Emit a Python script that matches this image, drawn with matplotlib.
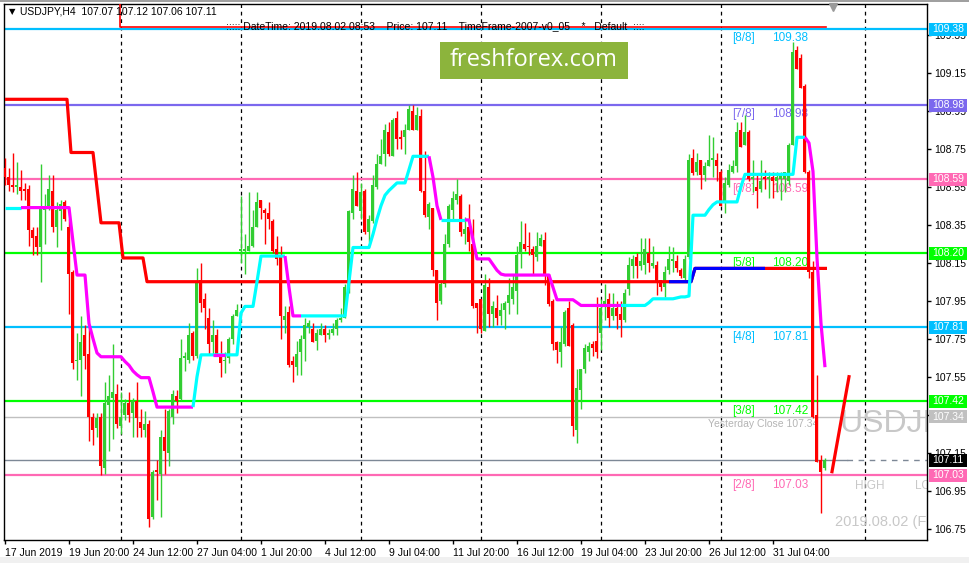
import numpy as np
import matplotlib
matplotlib.use('Agg')
import matplotlib.pyplot as plt
from matplotlib.patches import Rectangle
from matplotlib.transforms import blended_transform_factory

plt.rcParams['font.family'] = ['Liberation Sans', 'DejaVu Sans']

# USDJPY H4 bars, bar 1 = 17 Jun 2019 04:00 ... bar 206 = 2 Aug 2019 08:00
opens = [
    108.65, 108.60, 108.56, 108.55, 108.55, 108.54, 108.54, 108.32, 108.29, 108.23,
    108.43, 108.45, 108.53, 108.34, 108.42, 108.47, 108.34, 108.10, 107.63, 107.64,
    107.77, 107.67, 107.34, 107.28, 107.34, 107.07, 107.40, 107.44, 107.46, 107.29,
    107.35, 107.41, 107.36, 107.42, 107.31, 107.27, 107.30, 106.81, 107.06, 107.04,
    107.23, 107.15, 107.34, 107.45, 107.43, 107.65, 107.64, 107.78, 107.66, 108.06,
    107.96, 107.86, 107.73, 107.77, 107.67, 107.63, 107.65, 107.75, 107.87, 108.21,
    108.21, 108.21, 108.24, 108.34, 108.48, 108.43, 108.41, 108.37, 108.22, 108.18,
    107.85, 107.89, 107.63, 107.60, 107.68, 107.75, 107.81, 107.80, 107.74, 107.77,
    107.80, 107.77, 107.78, 107.80, 107.85, 107.86, 108.02, 108.41, 108.53, 108.42,
    108.53, 108.31, 108.37, 108.55, 108.67, 108.72, 108.84, 108.71, 108.91, 108.81,
    108.81, 108.85, 108.95, 108.85, 108.92, 108.53, 108.39, 108.44, 108.11, 107.95,
    108.04, 108.25, 108.43, 108.48, 108.50, 108.30, 108.34, 108.25, 107.94, 107.96,
    107.79, 108.02, 107.88, 107.91, 107.87, 107.90, 107.94, 107.96, 108.00, 108.20,
    108.25, 108.24, 108.22, 108.18, 108.24, 108.27, 108.08, 107.95, 107.73, 107.68,
    107.72, 107.91, 107.82, 107.27, 107.48, 107.59, 107.68, 107.72, 107.74, 107.78,
    107.92, 107.96, 107.87, 107.91, 107.88, 107.85, 108.01, 108.13, 108.18, 108.13,
    108.14, 108.20, 108.13, 108.14, 108.06, 108.02, 108.11, 108.16, 108.16, 108.11,
    108.07, 108.18, 108.70, 108.63, 108.69, 108.61, 108.66, 108.69, 108.69, 108.63,
    108.47, 108.56, 108.63, 108.66, 108.85, 108.77, 108.84, 108.59, 108.55, 108.54,
    108.60, 108.59, 108.60, 108.58, 108.59, 108.59, 108.58, 108.77, 109.27, 109.23,
    109.08, 108.63, 108.10, 107.35, 107.11, 107.07]
highs = [
    108.70, 108.65, 108.73, 108.68, 108.64, 108.57, 108.56, 108.34, 108.34, 108.67,
    108.51, 108.61, 108.61, 108.47, 108.48, 108.48, 108.38, 108.11, 107.78, 107.87,
    107.82, 107.81, 107.36, 107.36, 107.36, 107.52, 107.56, 107.72, 107.51, 107.47,
    107.43, 107.47, 107.44, 107.52, 107.38, 107.37, 107.32, 107.06, 107.11, 107.27,
    107.38, 107.38, 107.48, 107.48, 107.75, 107.68, 107.83, 107.79, 108.12, 108.15,
    107.99, 107.91, 107.85, 107.80, 107.74, 107.68, 107.76, 107.88, 107.93, 108.50,
    108.30, 108.52, 108.43, 108.52, 108.48, 108.44, 108.47, 108.38, 108.29, 108.24,
    107.92, 107.92, 107.66, 107.74, 107.77, 107.86, 107.85, 107.83, 107.80, 107.83,
    107.82, 107.80, 107.83, 107.86, 107.91, 108.04, 108.43, 108.61, 108.63, 108.57,
    108.54, 108.40, 108.61, 108.72, 108.80, 108.88, 108.89, 108.91, 108.95, 108.85,
    108.88, 108.98, 108.98, 108.97, 108.96, 108.74, 108.47, 108.44, 108.11, 108.06,
    108.30, 108.46, 108.53, 108.59, 108.51, 108.39, 108.46, 108.38, 107.94, 107.96,
    108.09, 108.07, 107.95, 107.98, 107.94, 107.95, 108.07, 108.09, 108.24, 108.37,
    108.36, 108.31, 108.24, 108.31, 108.30, 108.31, 108.09, 107.96, 107.74, 107.81,
    107.90, 107.95, 107.83, 107.59, 107.59, 107.72, 107.73, 107.74, 107.97, 107.96,
    108.04, 107.99, 107.99, 107.95, 107.95, 108.01, 108.18, 108.19, 108.20, 108.28,
    108.28, 108.28, 108.24, 108.16, 108.06, 108.13, 108.24, 108.23, 108.19, 108.12,
    108.19, 108.72, 108.75, 108.73, 108.69, 108.68, 108.82, 108.81, 108.73, 108.64,
    108.60, 108.67, 108.69, 108.89, 108.89, 108.93, 108.85, 108.69, 108.62, 108.69,
    108.64, 108.63, 108.63, 108.63, 108.63, 108.63, 108.78, 109.31, 109.29, 109.25,
    109.09, 108.64, 108.16, 107.56, 107.14, 107.12]
lows = [
    108.56, 108.53, 108.52, 108.51, 108.48, 108.48, 108.24, 108.19, 108.19, 108.05,
    108.25, 108.43, 108.31, 108.23, 108.32, 108.37, 107.88, 107.59, 107.53, 107.45,
    107.59, 107.21, 107.19, 107.23, 107.03, 107.04, 107.16, 107.22, 107.28, 107.25,
    107.32, 107.31, 107.23, 107.23, 107.23, 107.23, 106.76, 106.80, 106.90, 106.81,
    107.04, 107.08, 107.30, 107.36, 107.42, 107.58, 107.62, 107.64, 107.65, 107.89,
    107.80, 107.67, 107.67, 107.67, 107.55, 107.57, 107.62, 107.72, 107.87, 108.15,
    108.09, 108.21, 108.23, 108.34, 108.38, 108.25, 108.33, 108.20, 108.14, 107.75,
    107.78, 107.60, 107.52, 107.56, 107.56, 107.63, 107.78, 107.73, 107.69, 107.77,
    107.73, 107.75, 107.77, 107.77, 107.84, 107.86, 107.99, 108.38, 108.45, 108.38,
    108.30, 108.26, 108.36, 108.54, 108.67, 108.66, 108.71, 108.71, 108.75, 108.75,
    108.72, 108.85, 108.85, 108.85, 108.52, 108.39, 108.33, 108.08, 107.85, 107.93,
    108.02, 108.23, 108.38, 108.46, 108.29, 108.25, 108.21, 107.91, 107.78, 107.78,
    107.79, 107.81, 107.81, 107.82, 107.82, 107.80, 107.88, 107.93, 107.88, 108.12,
    108.21, 108.19, 108.09, 108.16, 108.24, 108.03, 107.92, 107.69, 107.62, 107.60,
    107.71, 107.71, 107.24, 107.20, 107.38, 107.57, 107.63, 107.66, 107.65, 107.69,
    107.85, 107.81, 107.85, 107.80, 107.76, 107.84, 107.98, 108.07, 108.07, 108.11,
    108.09, 108.10, 108.12, 107.98, 108.00, 107.97, 108.09, 108.10, 108.10, 108.07,
    108.06, 108.17, 108.61, 108.61, 108.54, 108.58, 108.66, 108.60, 108.58, 108.45,
    108.41, 108.55, 108.62, 108.63, 108.76, 108.77, 108.58, 108.52, 108.44, 108.52,
    108.54, 108.49, 108.49, 108.52, 108.48, 108.52, 108.56, 108.77, 109.17, 109.07,
    108.62, 108.07, 107.33, 107.10, 106.83, 107.06]
closes = [
    108.60, 108.56, 108.55, 108.56, 108.53, 108.53, 108.32, 108.28, 108.23, 108.45,
    108.45, 108.54, 108.34, 108.43, 108.46, 108.38, 108.09, 107.62, 107.64, 107.73,
    107.66, 107.34, 107.27, 107.33, 107.08, 107.41, 107.45, 107.47, 107.30, 107.34,
    107.41, 107.35, 107.42, 107.33, 107.28, 107.30, 106.80, 107.05, 107.05, 107.23,
    107.16, 107.37, 107.46, 107.42, 107.65, 107.66, 107.77, 107.66, 108.05, 107.94,
    107.91, 107.72, 107.77, 107.67, 107.62, 107.64, 107.75, 107.87, 107.90, 108.22,
    108.22, 108.24, 108.34, 108.47, 108.44, 108.41, 108.38, 108.21, 108.17, 107.87,
    107.87, 107.61, 107.61, 107.67, 107.75, 107.82, 107.83, 107.73, 107.78, 107.80,
    107.77, 107.78, 107.80, 107.85, 107.86, 108.02, 108.42, 108.54, 108.45, 108.52,
    108.31, 108.38, 108.56, 108.67, 108.71, 108.85, 108.72, 108.90, 108.80, 108.80,
    108.85, 108.96, 108.85, 108.93, 108.53, 108.40, 108.46, 108.11, 107.94, 108.04,
    108.25, 108.45, 108.49, 108.51, 108.31, 108.33, 108.26, 107.92, 107.91, 107.80,
    108.03, 107.88, 107.92, 107.86, 107.90, 107.94, 107.98, 108.02, 108.19, 108.26,
    108.22, 108.23, 108.19, 108.24, 108.28, 108.09, 107.93, 107.72, 107.69, 107.73,
    107.89, 107.71, 107.29, 107.49, 107.59, 107.70, 107.71, 107.70, 107.68, 107.91,
    107.95, 107.86, 107.91, 107.87, 107.85, 107.99, 108.14, 108.17, 108.13, 108.16,
    108.22, 108.15, 108.15, 108.05, 108.02, 108.10, 108.17, 108.17, 108.12, 108.08,
    108.17, 108.69, 108.62, 108.68, 108.61, 108.66, 108.69, 108.70, 108.66, 108.45,
    108.57, 108.64, 108.66, 108.84, 108.76, 108.84, 108.59, 108.60, 108.53, 108.58,
    108.59, 108.60, 108.58, 108.60, 108.62, 108.63, 108.77, 109.26, 109.17, 109.07,
    108.63, 108.10, 107.34, 107.10, 107.05, 107.11]

# trailing stop indicator (cyan when up, magenta when down)
stop = [
    108.44, 108.44, 108.44, 108.44, 108.44, 108.44, 108.44, 108.44, 108.44, 108.44,
    108.44, 108.44, 108.44, 108.44, 108.44, 108.44, 108.44, 108.26, 108.085, 108.085,
    108.085, 107.83, 107.75, 107.675, 107.655, 107.655, 107.655, 107.655, 107.655, 107.655,
    107.63, 107.61, 107.58, 107.56, 107.545, 107.545, 107.545, 107.47, 107.39, 107.39,
    107.39, 107.39, 107.39, 107.39, 107.39, 107.39, 107.39, 107.39, 107.55, 107.665,
    107.665, 107.665, 107.665, 107.665, 107.665, 107.665, 107.665, 107.665, 107.665, 107.885,
    107.92, 107.92, 107.92, 108.05, 108.185, 108.185, 108.185, 108.185, 108.185, 108.185,
    108.185, 108.02, 107.87, 107.87, 107.87, 107.87, 107.87, 107.87, 107.87, 107.87,
    107.87, 107.87, 107.87, 107.87, 107.87, 107.87, 108.05, 108.23, 108.23, 108.23,
    108.23, 108.23, 108.30, 108.38, 108.45, 108.505, 108.53, 108.55, 108.57, 108.57,
    108.57, 108.64, 108.71, 108.71, 108.71, 108.71, 108.71, 108.60, 108.45, 108.375,
    108.375, 108.375, 108.375, 108.375, 108.375, 108.375, 108.375, 108.27, 108.17, 108.17,
    108.17, 108.17, 108.14, 108.11, 108.09, 108.085, 108.085, 108.085, 108.085, 108.085,
    108.085, 108.085, 108.085, 108.085, 108.085, 108.085, 108.085, 108.02, 107.955, 107.955,
    107.955, 107.955, 107.955, 107.94, 107.925, 107.925, 107.925, 107.925, 107.925, 107.925,
    107.925, 107.925, 107.925, 107.925, 107.925, 107.925, 107.925, 107.925, 107.925, 107.925,
    107.925, 107.94, 107.96, 107.96, 107.96, 107.96, 107.96, 107.96, 107.965, 107.97,
    107.97, 107.975, 108.40, 108.40, 108.40, 108.40, 108.43, 108.455, 108.47, 108.47,
    108.47, 108.47, 108.47, 108.47, 108.55, 108.615, 108.615, 108.615, 108.615, 108.615,
    108.615, 108.615, 108.615, 108.615, 108.615, 108.615, 108.615, 108.615, 108.81, 108.81,
    108.81, 108.78, 108.63, 108.175, 107.83, 107.60]
# (first bar, last bar, trend) runs of the stop line
stop_runs = [(1, 5, 'up'), (6, 48, 'dn'), (49, 71, 'up'), (72, 75, 'dn'),
             (76, 107, 'up'), (108, 110, 'dn'), (111, 116, 'up'), (117, 155, 'dn'),
             (156, 201, 'up'), (202, 206, 'dn'), (54, 56, 'dn')]

# thick step line: first bar, last bar, level
trail_first = [1, 17.5, 25, 30.5, 36.5, 173.5]
trail_last = [16.5, 23, 29.5, 35.5, 172.5, 206.5]
trail_level = [109.01, 108.73, 108.36, 108.175, 108.05, 108.12]
trail_blue = (167, 191)

# thin red line at the top (comes down from off-chart at bar 30)
top_bars = [1, 29.75, 206.25]
top_level = [109.80, 109.39, 109.39]

# Murrey Math levels
mm_levels = [109.38, 108.98, 108.59, 108.20, 107.81, 107.42, 107.03]
mm_names = ['[8/8]', '[7/8]', '[6/8]', '[5/8]', '[4/8]', '[3/8]', '[2/8]']
mm_colors = ['#00bfff', '#7b68ee', '#ff69b4', '#00ff00', '#00bfff', '#00ff00', '#ff69b4']

yesterday_close = 107.34
bid = 107.11
trend_x = [207.75, 212.0]
trend_y = [107.05, 107.55]

price_ticks = [106.75, 106.95, 107.15, 107.35, 107.55, 107.75, 107.95,
               108.15, 108.35, 108.55, 108.75, 108.95, 109.15, 109.35]
date_ticks = [1, 17, 33, 49, 65, 81, 97, 113, 129, 145, 161, 177, 193]
date_labels = ['17 Jun 2019', '19 Jun 20:00', '24 Jun 12:00', '27 Jun 04:00',
               '1 Jul 20:00', '4 Jul 12:00', '9 Jul 04:00', '11 Jul 20:00',
               '16 Jul 12:00', '19 Jul 04:00', '23 Jul 20:00', '26 Jul 12:00',
               '31 Jul 04:00']
week_lines = [30, 60, 90, 120, 150, 180, 216]

W, H = 970, 563
def fx(x):
    return x / W
def fy(y):
    return 1 - y / H

fig = plt.figure(figsize=(9.70, 5.63), dpi=100)
fig.patch.set_facecolor('white')
ax = fig.add_axes([fx(4), fy(540), fx(927) - fx(4), fy(4) - fy(540)])
ax.set_xlim(0.75, 231.5)
ax.set_ylim(106.6905, 109.5116)
ax.set_facecolor('white')

bars = np.arange(1, len(opens) + 1)
o = np.array(opens); h = np.array(highs); l = np.array(lows); c = np.array(closes)
cols = np.where(c >= o, '#32cd32', '#ff0000')

# grid
for wx in week_lines:
    ax.axvline(wx, color='black', lw=0.9, ls=(0, (3, 3)), zorder=0.5)

# Murrey lines and labels
for lvl, name, colr in zip(mm_levels, mm_names, mm_colors):
    ax.axhline(lvl, color=colr, lw=1.6, zorder=1)
    ax.annotate(name, (182.75, lvl), xytext=(0, -2.5), textcoords='offset points',
                ha='left', va='top', color=colr, fontsize=8.5, zorder=1.5)
    ax.annotate(f'{lvl:.2f}', (192.75, lvl), xytext=(0, -2.5), textcoords='offset points',
                ha='left', va='top', color=colr, fontsize=8.5, zorder=1.5)

ax.axhline(yesterday_close, color='#c0c0c0', lw=1, zorder=1)
ax.annotate(f'Yesterday Close {yesterday_close:.2f}', (176.75, yesterday_close),
            xytext=(0, -2), textcoords='offset points', ha='left', va='top',
            color='#b4b4b4', fontsize=7.5, zorder=1.5)
ax.plot([0.75, 211.5], [bid, bid], color='#7d8896', lw=1, zorder=1)
ax.plot([211.5, 231.5], [bid, bid], color='#7d8896', lw=1, ls=(0, (4, 4)), zorder=1)

# candles
ax.vlines(bars, l, h, colors=cols, lw=1, zorder=3)
ax.bar(bars, np.maximum(np.abs(c - o), 0.006), bottom=np.minimum(o, c), width=0.75,
       color=cols, lw=0, zorder=3)

# trailing step line
tx, ty = [], []
for a, b, lv in zip(trail_first, trail_last, trail_level):
    tx += [a, b]
    ty += [lv, lv]
ax.plot(tx, ty, color='#ff0000', lw=2.3, zorder=4, solid_capstyle='butt')
bx = [trail_blue[0]] + [x for x in tx if trail_blue[0] < x < trail_blue[1]] + [trail_blue[1]]
by = np.interp(bx, tx, ty)
ax.plot(bx, by, color='#0000ff', lw=2.3, zorder=4.1, solid_capstyle='butt')

ax.plot(top_bars, top_level, color='#ff0000', lw=1.2, drawstyle='steps-post', zorder=4)

# stop line, coloured by trend
stop_arr = np.array(stop)
for a, b, tr in stop_runs:
    a0 = max(a - 1, 1)
    ax.plot(bars[a0 - 1:b], stop_arr[a0 - 1:b], color='#00ffff' if tr == 'up' else '#ff00ff',
            lw=2.3, zorder=4.2, solid_capstyle='butt')

ax.plot(trend_x, trend_y, color='#ff0000', lw=2.3, zorder=4)

# chart texts on the right, cut by the price scale
for txt, xx, yy, fs in [('USDJPY', 209.75, 107.30, 23), ('HIGH', 213.5, 106.975, 8.5),
                        ('LOW', 228.5, 106.975, 8.5), ('2019.08.02 (Fri)', 208.5, 106.785, 10.5)]:
    t = ax.text(xx, yy, txt, fontsize=fs, color='#c8c8c8', ha='left', va='center',
                zorder=2, clip_on=True)
    t.set_clip_path(ax.patch)

ax.plot([208], [109.497], marker='v', ms=6, color='#9a9a9a', clip_on=False, zorder=6)

# axes styling
for sp in ax.spines.values():
    sp.set_color('black')
    sp.set_linewidth(1)
ax.yaxis.tick_right()
ax.set_yticks(price_ticks)
# 107.35 sits fully under the yesterday-close box on the scale
ax.set_yticklabels(['' if v == 107.35 else f'{v:.2f}' for v in price_ticks])
ax.tick_params(axis='y', direction='out', length=3, width=1, pad=2, labelsize=7.5, colors='black')
ax.set_xticks(date_ticks)
ax.set_xticklabels(date_labels, ha='left')
ax.tick_params(axis='x', direction='out', length=3, width=1, pad=3, labelsize=7.5, colors='black')

# coloured price boxes on the scale
trans = blended_transform_factory(ax.transAxes, ax.transData)
box_vals = mm_levels + [yesterday_close, bid]
box_cols = mm_colors + ['#c0c0c0', '#000000']
bx0 = (929 - 4) / 923
bx1 = (967 - 4) / 923
bh = 13 / 190.0
for v, colr in zip(box_vals, box_cols):
    ax.add_patch(Rectangle((bx0, v - bh / 2), bx1 - bx0, bh, transform=trans,
                           fc=colr, ec='none', clip_on=False, zorder=9))
    ax.text((bx0 + bx1) / 2, v, f'{v:.2f}', transform=trans, ha='center', va='center',
            fontsize=7.5, color='white', clip_on=False, zorder=10)

# header
fig.text(fx(9), fy(12), '\u25bc', fontsize=6, family='DejaVu Sans', va='center', ha='left')
fig.text(fx(20), fy(12), 'USDJPY,H4  107.07 107.12 107.06 107.11', fontsize=7.5,
         va='center', ha='left')
fig.text(fx(226), fy(26), '::::: DateTime: 2019.08.02 08:53    Price: 107.11    '
         'TimeFrame-2007-v0_05    *   Default  ::::', fontsize=7.5, va='center', ha='left')

# logo
fig.patches.append(Rectangle((fx(440), fy(79)), fx(628) - fx(440), fy(42) - fy(79),
                             transform=fig.transFigure, fc='#8cb43c', ec='none', zorder=5))
fig.text(fx(534), fy(60), 'freshforex.com', fontsize=17, color='white', ha='center',
         va='center', family=['Open Sans', 'DejaVu Sans'], zorder=6)

# window edges
fig.patches.append(Rectangle((0, 0), 1, fy(557), transform=fig.transFigure,
                             fc='#f0f0f0', ec='none', zorder=0))
fig.patches.append(Rectangle((0, fy(1.5)), 1, 1 - fy(1.5), transform=fig.transFigure,
                             fc='#a0a0a0', ec='none', zorder=0))

fig.savefig('out.png', dpi=100, facecolor='white')
